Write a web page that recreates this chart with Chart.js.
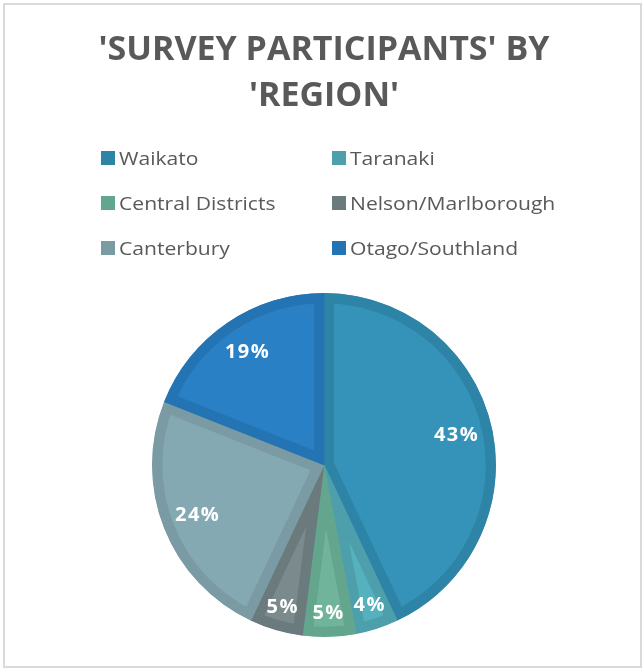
<!DOCTYPE html>
<html>
<head>
<meta charset="utf-8">
<script src="https://cdn.jsdelivr.net/npm/chart.js@4.4.1/dist/chart.umd.min.js"></script>
<style>
  html, body { margin: 0; padding: 0; background: #fff; }
  #wrap { position: relative; width: 643px; height: 669px; }
  #frame {
    position: absolute; left: 3px; top: 3px; width: 639px; height: 665px;
    box-sizing: border-box; border: 2px solid #d9d9d9; pointer-events: none;
  }
  #legend { position: absolute; left: 0; top: 0; font-family: 'Open Sans', sans-serif; font-size: 19px; color: #595959; }
  .item { position: absolute; display: flex; align-items: center; white-space: nowrap; height: 24px; }
  .item .box { width: 14px; height: 14px; margin-right: 4px; display: inline-block; }
  .item .txt { display: inline-block; transform: scaleX(1.11); transform-origin: left center; }
</style>
</head>
<body>
<div id="wrap">
  <canvas id="pie" width="643" height="669"></canvas>
  <div id="legend"></div>
  <div id="frame"></div>
</div>
<script>
// regions and their share of participants (%)
const regions = ['Waikato', 'Taranaki', 'Central Districts', 'Nelson/Marlborough', 'Canterbury', 'Otago/Southland']
const shares = [43, 4, 5, 5, 24, 19]

const fillColors = ['#3593b9', '#56b1be', '#70b59b', '#7b8b8d', '#85a9b3', '#2a80c5']
const edgeColors = ['#2e84a7', '#4c9fab', '#64a68d', '#6b7b7d', '#7a9ba3', '#2474b3']

// white % labels inside each slice
const sliceLabels = {
  id: 'sliceLabels',
  afterDatasetsDraw(chart) {
    const ctx = chart.ctx
    const meta = chart.getDatasetMeta(0)
    ctx.save()
    ctx.fillStyle = '#fff'
    ctx.font = 'bold 20px "Open Sans", sans-serif'
    ctx.letterSpacing = '1.5px'
    ctx.textAlign = 'center'
    ctx.textBaseline = 'middle'
    meta.data.forEach((arc, i) => {
      const { x, y, startAngle, endAngle, outerRadius } = arc.getProps(['x', 'y', 'startAngle', 'endAngle', 'outerRadius'], true)
      const mid = (startAngle + endAngle) / 2
      const r = outerRadius * (shares[i] < 10 ? 0.86 : 0.79)
      ctx.fillText(shares[i] + '%', x + Math.cos(mid) * r, y + Math.sin(mid) * r)
    })
    ctx.restore()
  }
}

const pieChart = new Chart(document.getElementById('pie'), {
  type: 'pie',
  data: {
    labels: regions,
    datasets: [
      {
        data: shares,
        backgroundColor: fillColors,
        borderColor: edgeColors,
        borderWidth: 10,
        borderAlign: 'inner',
      },
    ],
  },
  options: {
    responsive: false,
    animation: false,
    layout: { padding: { left: 5, right: 0, top: 0, bottom: 32 } },
    plugins: {
      legend: { display: false },
      tooltip: { enabled: false },
      title: {
        display: true,
        text: ["'SURVEY PARTICIPANTS' BY", "'REGION'"],
        color: '#595959',
        font: { family: 'Open Sans', size: 34, weight: 'bold', lineHeight: 1.353 },
        padding: { top: 27, bottom: 174 },
      },
    },
  },
  plugins: [sliceLabels],
})

// legend in two columns, built from the chart data
const legendEl = document.getElementById('legend')
const cols = [101, 332]
const rows = [146, 191, 236]
pieChart.data.labels.forEach((label, i) => {
  const item = document.createElement('div')
  item.className = 'item'
  item.style.left = cols[i % 2] + 'px'
  item.style.top = rows[Math.floor(i / 2)] + 'px'
  item.innerHTML = `<span class="box" style="background:${edgeColors[i]}"></span><span class="txt">${label}</span>`
  legendEl.appendChild(item)
})
</script>
</body>
</html>
